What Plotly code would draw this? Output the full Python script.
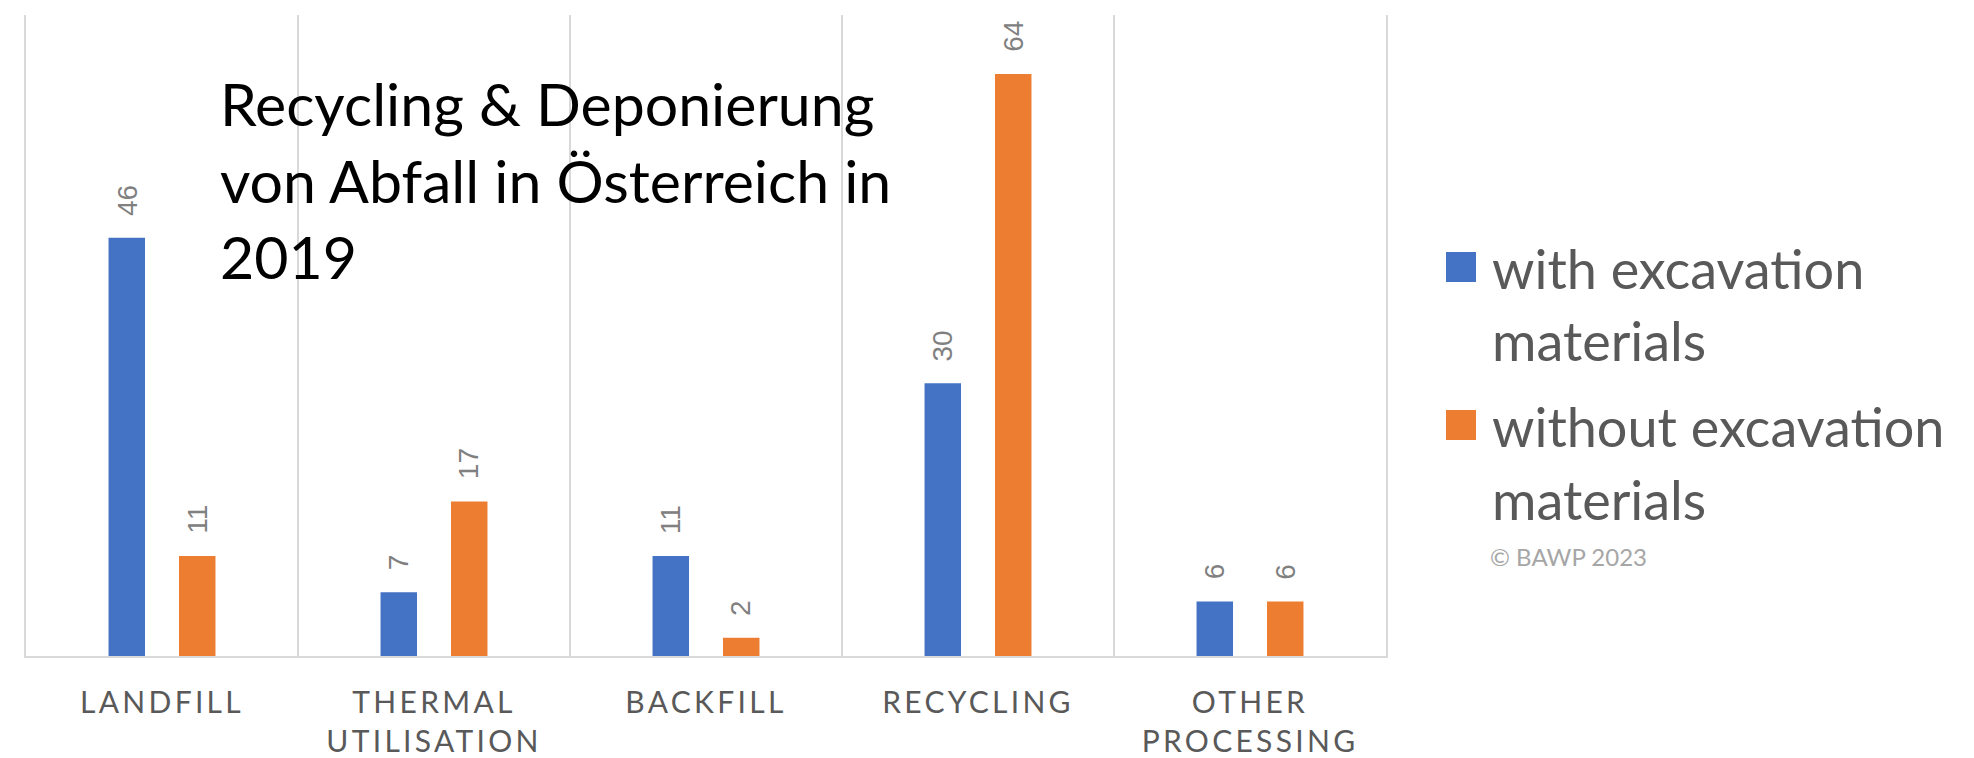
import plotly.graph_objects as go

# Waste treatment shares in Austria, 2019 (percent)
categories = ["LANDFILL", "THERMAL<br>UTILISATION", "BACKFILL", "RECYCLING", "OTHER<br>PROCESSING"]
with_excavation = [46, 7, 11, 30, 6]
without_excavation = [11, 17, 2, 64, 6]

series_names = ["with excavation<br>materials", "without excavation<br>materials"]
series_colors = ["#4472C4", "#ED7D31"]

W, H = 1974, 758
PLOT_L, PLOT_R, PLOT_T, PLOT_B = 26, 1386, 15, 656
BARGAP = 0.482

def px(xp):
    return (xp - PLOT_L) / (PLOT_R - PLOT_L)

def py(yp):
    return (PLOT_B - yp) / (PLOT_B - PLOT_T)

fig = go.Figure()
for name, vals, col in zip(series_names, [with_excavation, without_excavation], series_colors):
    fig.add_trace(go.Bar(x=categories, y=vals, name=name, marker_color=col,
                         marker_line_width=0, showlegend=False))

# rotated value labels above each bar
slot = (1 - BARGAP) / 2
offsets = [-slot / 2, slot / 2]
annotations = []
for vals, off in zip([with_excavation, without_excavation], offsets):
    for i, v in enumerate(vals):
        annotations.append(dict(x=i + off, y=v, xref="x", yref="y", text=str(v),
                                textangle=-90, showarrow=False, yanchor="bottom",
                                xanchor="center", yshift=20,
                                font=dict(family="Liberation Sans", size=28, color="#808080")))

# title text inside the plot area
annotations.append(dict(x=px(218), y=py(66), xref="paper", yref="paper",
                        text="Recycling & Deponierung<br>von Abfall in Österreich in<br>2019",
                        showarrow=False, xanchor="left", yanchor="top", align="left",
                        font=dict(family="Lato", size=59, color="#000000")))

# legend entries: swatch plus two text lines each
legend_rows = [(267, 268, series_names[0], series_colors[0]),
               (425, 427, series_names[1], series_colors[1])]
LINE_STEP = 72
shapes = []
for ys, yt, name, col in legend_rows:
    shapes.append(dict(type="rect", xref="paper", yref="paper",
                       x0=px(1446), x1=px(1476), y0=py(ys - 15), y1=py(ys + 15),
                       fillcolor=col, line_width=0))
    for k, line in enumerate(name.split("<br>")):
        annotations.append(dict(x=px(1490), y=py(yt + k * LINE_STEP), xref="paper", yref="paper",
                                text=line, showarrow=False, xanchor="left", yanchor="middle",
                                align="left",
                                font=dict(family="Lato", size=54, color="#595959")))

annotations.append(dict(x=px(1488), y=py(556), xref="paper", yref="paper",
                        text="© BAWP 2023", showarrow=False, xanchor="left", yanchor="middle",
                        font=dict(family="Lato", size=24, color="#A6A6A6")))

fig.update_layout(
    width=W, height=H,
    margin=dict(l=PLOT_L, r=W - PLOT_R, t=PLOT_T, b=H - PLOT_B, pad=0),
    paper_bgcolor="white", plot_bgcolor="white",
    barmode="group", bargap=BARGAP, bargroupgap=0.482,
    annotations=annotations, shapes=shapes,
    showlegend=False,
)
fig.update_xaxes(type="category", tickson="boundaries", showgrid=True, automargin=False,
                 gridcolor="#D9D9D9", gridwidth=2, showline=True, linecolor="#D9D9D9",
                 linewidth=2, ticks="", ticklabelstandoff=19,
                 tickfont=dict(family="Lato", size=30, color="#595959"))
fig.update_yaxes(range=[0, 70.5], showgrid=False, zeroline=False, showticklabels=False,
                 automargin=False, showline=True, mirror=True, linecolor="#D9D9D9", linewidth=2)

style_js = ("var s=document.createElement('style');"
            "s.textContent='.xtick text{letter-spacing:3.3px}';"
            "document.head.appendChild(s);")
fig.write_html("out.html", post_script=style_js)
